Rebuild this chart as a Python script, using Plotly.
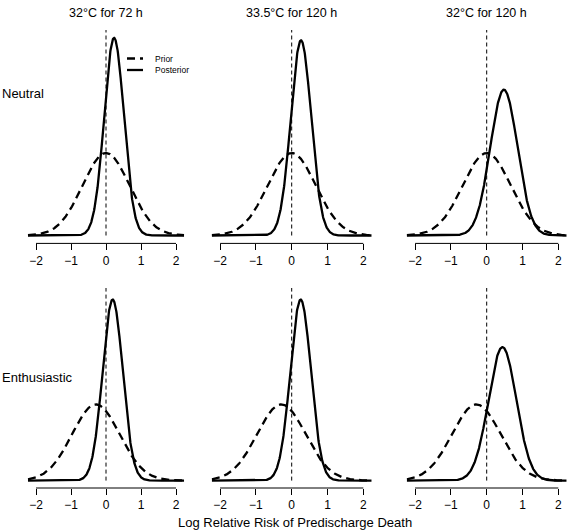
import numpy as np
import plotly.graph_objects as go

# ---------------- data ----------------
columns = ["32°C for 72 h", "33.5°C for 120 h", "32°C for 120 h"]
rows = ["Neutral", "Enthusiastic"]

prior_mean = [0.0, -0.29]          # Neutral, Enthusiastic
prior_sd = [0.672, 0.682]

post_mean_neutral = [0.23, 0.26, 0.48]
post_sd_neutral = [0.2805, 0.284, 0.380]
post_mean_enthusiastic = [0.19, 0.25, 0.44]
post_sd_enthusiastic = [0.287, 0.287, 0.389]

tick_values = [-2, -1, 0, 1, 2]
x_title = "Log Relative Risk of Predischarge Death"

post_mean = [post_mean_neutral, post_mean_enthusiastic]
post_sd = [post_sd_neutral, post_sd_enthusiastic]

# ---------------- layout helpers ----------------
W, H = 567, 532
FONT = "Liberation Sans, Arial, Helvetica, sans-serif"


def px(x):
    return x / W


def py(y):
    return 1 - y / H


col_px = [(27.6, 184.4), (211.5, 371.9), (406.5, 566.9)]
row_px = [(30.0, 243.4), (288.0, 488.0)]
XR = [-2.24, 2.24]

grid = np.linspace(-2.23, 2.23, 600)


def dnorm(x, m, s):
    return np.exp(-0.5 * ((x - m) / s) ** 2) / (s * np.sqrt(2 * np.pi))


M = max(float(dnorm(m, m, s)) for r in range(2) for m, s in zip(post_mean[r], post_sd[r]))
YR = [-0.04 * M, 1.04 * M]

fig = go.Figure()
shapes = []
annotations = []
layout = dict(
    width=W, height=H,
    margin=dict(l=0, r=0, t=0, b=0),
    paper_bgcolor="white", plot_bgcolor="white",
    showlegend=False,
    font=dict(family=FONT, color="black", size=12),
)

k = 0
for r in range(2):
    for c in range(3):
        k += 1
        xa = "x" if k == 1 else f"x{k}"
        ya = "y" if k == 1 else f"y{k}"
        xkey = "xaxis" if k == 1 else f"xaxis{k}"
        ykey = "yaxis" if k == 1 else f"yaxis{k}"
        layout[xkey] = dict(
            domain=[px(col_px[c][0]), px(col_px[c][1])],
            range=XR, anchor=ya, showgrid=False, zeroline=False, showline=False,
            tickmode="array", tickvals=tick_values, ticks="outside", ticklen=6,
            tickwidth=1, tickcolor="black",
            tickfont=dict(family=FONT, size=12, color="black"),
        )
        layout[ykey] = dict(
            domain=[py(row_px[r][1]), py(row_px[r][0])],
            range=YR, anchor=xa, visible=False,
        )
        # prior (dashed)
        fig.add_trace(go.Scatter(
            x=grid, y=dnorm(grid, prior_mean[r], prior_sd[r]), mode="lines",
            line=dict(color="black", width=2.3, dash="8px,5px"),
            xaxis=xa, yaxis=ya, name="Prior", hoverinfo="skip"))
        # posterior (solid)
        fig.add_trace(go.Scatter(
            x=grid, y=dnorm(grid, post_mean[r][c], post_sd[r][c]), mode="lines",
            line=dict(color="black", width=2.3),
            xaxis=xa, yaxis=ya, name="Posterior", hoverinfo="skip"))
        # vertical reference line at 0
        shapes.append(dict(type="line", xref=xa, yref=ya, x0=0, x1=0, y0=0, y1=YR[1],
                           line=dict(color="black", width=1, dash="4px,3px")))
        # R-style axis line spanning first to last tick
        shapes.append(dict(type="line", xref=xa, yref=f"{ya} domain",
                           x0=tick_values[0], x1=tick_values[-1], y0=0, y1=0,
                           line=dict(color="black", width=1)))

# column titles
for c, title in enumerate(columns):
    annotations.append(dict(text=title, x=px((col_px[c][0] + col_px[c][1]) / 2), y=py(13),
                            xref="paper", yref="paper", showarrow=False,
                            xanchor="center", yanchor="middle",
                            font=dict(family=FONT, size=12.5, color="black")))
# row labels
for r, (label, ypos) in enumerate(zip(rows, [93, 377])):
    annotations.append(dict(text=label, x=0, y=py(ypos), xref="paper", yref="paper",
                            showarrow=False, xanchor="left", yanchor="middle",
                            font=dict(family=FONT, size=13, color="black")))
# x title
annotations.append(dict(text=x_title, x=px(295), y=py(522), xref="paper", yref="paper",
                        showarrow=False, xanchor="center", yanchor="middle",
                        font=dict(family=FONT, size=13, color="black")))

# legend (drawn manually, R-style) in the first panel
leg_items = [("Prior", "8px,5px", 58.5), ("Posterior", "solid", 70)]
for name, dash, ly in leg_items:
    shapes.append(dict(type="line", xref="paper", yref="paper",
                       x0=px(127), x1=px(143), y0=py(ly), y1=py(ly),
                       line=dict(color="black", width=2.3, dash=dash)))
    annotations.append(dict(text=name, x=px(152.5), y=py(ly), xref="paper", yref="paper",
                            showarrow=False, xanchor="left", yanchor="middle",
                            font=dict(family=FONT, size=8.5, color="black")))

layout["shapes"] = shapes
layout["annotations"] = annotations
fig.update_layout(**layout)
fig.write_html(
    "out.html",
    config={"displayModeBar": False, "staticPlot": True},
    post_script="document.body.style.margin='0';document.body.style.overflow='hidden';",
)
